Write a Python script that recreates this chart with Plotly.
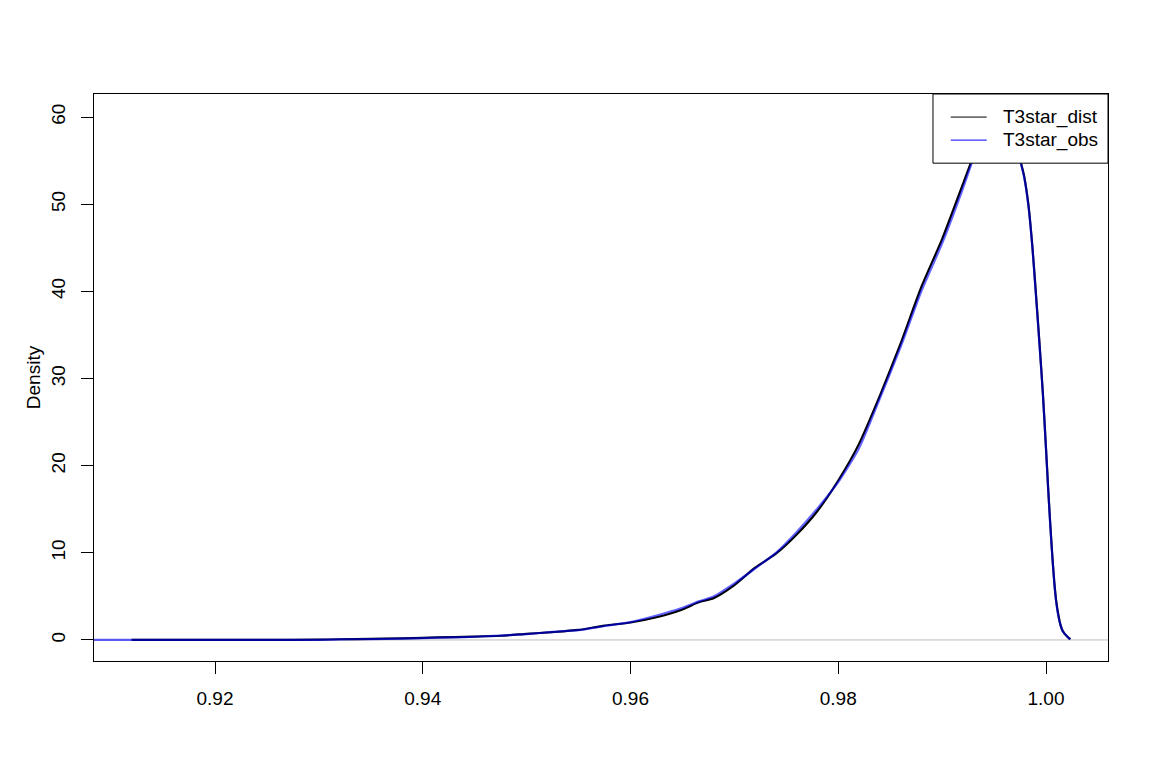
import plotly.graph_objects as go

# Density curve values
x_dist = [0.91197, 0.915, 0.920, 0.925, 0.930, 0.932, 0.935, 0.938, 0.940, 0.943,
          0.945, 0.9475, 0.950, 0.9525, 0.955, 0.9575, 0.960, 0.9625, 0.965, 0.9665,
          0.968, 0.970, 0.972, 0.974, 0.976, 0.978, 0.980, 0.982, 0.984, 0.986,
          0.988, 0.990, 0.992, 0.993, 0.994, 0.995, 0.9957, 0.9965, 0.997, 0.9976,
          0.9979, 0.9983, 0.9987, 0.9991, 0.9994, 0.9997, 1.0000, 1.0002, 1.0004, 1.0006,
          1.0008, 1.0010, 1.0012, 1.0014, 1.0016, 1.0018, 1.0020, 1.0022, 1.00235]
y_dist = [0.0, 0.0, 0.0, 0.01, 0.03, 0.08, 0.12, 0.18, 0.25, 0.32,
          0.38, 0.48, 0.70, 0.90, 1.15, 1.65, 2.0, 2.6, 3.5, 4.3,
          4.8, 6.3, 8.3, 9.9, 12.1, 14.8, 18.3, 22.5, 28.0, 34.0,
          40.5, 46.0, 52.3, 55.5, 58.3, 59.9, 60.24, 59.5, 57.8, 54.7,
          53.2, 50.0, 45.0, 38.6, 33.6, 28.3, 22.0, 17.6, 13.5, 9.8,
          6.6, 4.3, 2.8, 1.7, 1.05, 0.7, 0.45, 0.22, 0.1]
x_obs = [0.9050, 0.91197, 0.915, 0.920, 0.925, 0.930, 0.932, 0.935, 0.938, 0.940, 0.943,
         0.945, 0.9475, 0.950, 0.9525, 0.955, 0.9575, 0.960, 0.9625, 0.965, 0.9665,
         0.968, 0.970, 0.972, 0.974, 0.976, 0.978, 0.980, 0.982, 0.984, 0.986,
         0.988, 0.990, 0.992, 0.993, 0.994, 0.995, 0.9957, 0.9965, 0.997, 0.9976,
         0.9979, 0.9983, 0.9987, 0.9991, 0.9994, 0.9997, 1.0000, 1.0002, 1.0004, 1.0006,
         1.0008, 1.0010, 1.0012, 1.0014, 1.0016, 1.0018, 1.0020, 1.0022, 1.00235]
y_obs = [0.0, 0.0, 0.0, 0.0, 0.01, 0.02, 0.06, 0.10, 0.15, 0.22, 0.30,
         0.37, 0.50, 0.68, 0.92, 1.12, 1.60, 2.05, 2.8, 3.7, 4.4,
         5.0, 6.5, 8.2, 10.0, 12.4, 15.1, 18.1, 22.0, 27.7, 33.6,
         40.0, 45.5, 51.8, 55.2, 58.0, 59.7, 60.1, 59.4, 57.7, 54.6,
         53.1, 49.9, 44.9, 38.4, 33.4, 28.2, 21.9, 17.5, 13.4, 9.7,
         6.5, 4.2, 2.7, 1.7, 1.0, 0.7, 0.45, 0.22, 0.1]

x_ticks = [0.92, 0.94, 0.96, 0.98, 1.00]
x_tick_text = ["0.92", "0.94", "0.96", "0.98", "1.00"]
y_ticks = [0, 10, 20, 30, 40, 50, 60]
series_names = ["T3star_dist", "T3star_obs"]

FONT = "Liberation Sans, Arial, sans-serif"

fig = go.Figure()
fig.add_trace(go.Scatter(x=x_dist, y=y_dist, mode="lines", name=series_names[0],
                         line=dict(color="black", width=2.2, shape="spline", smoothing=0.6),
                         showlegend=False))
fig.add_trace(go.Scatter(x=x_obs, y=y_obs, mode="lines", name=series_names[1],
                         line=dict(color="rgba(0,0,255,0.6)", width=2.2, shape="spline", smoothing=0.6),
                         showlegend=False))

# zero line (gray, like plot.density)
fig.add_shape(type="line", xref="paper", x0=0, x1=1, yref="y", y0=0, y1=0,
              line=dict(color="#BEBEBE", width=1), layer="below")

# legend box drawn manually (R style)
lx0, lx1, ly0, ly1 = 0.8274, 1.0, 0.878, 1.0
fig.add_shape(type="rect", xref="paper", yref="paper", x0=lx0, x1=lx1, y0=ly0, y1=ly1,
              line=dict(color="black", width=1), fillcolor="white", layer="above")
leg_colors = ["black", "blue"]
leg_y = [0.9593, 0.9187]
for name, col, yy in zip(series_names, leg_colors, leg_y):
    fig.add_shape(type="line", xref="paper", yref="paper", x0=0.8449, x1=0.8804,
                  y0=yy, y1=yy, line=dict(color=col, width=1), layer="above")
    fig.add_annotation(xref="paper", yref="paper", x=0.8949, y=yy, text=name,
                       showarrow=False, xanchor="left", yanchor="middle",
                       font=dict(family=FONT, size=19, color="black"))

fig.update_layout(
    width=1157, height=778,
    margin=dict(l=86.3, r=56.7, t=86.3, b=125),
    paper_bgcolor="white", plot_bgcolor="white",
    font=dict(family=FONT, size=19, color="black"),
    showlegend=False,
    xaxis=dict(range=[0.908351, 1.005969], tickvals=x_ticks, ticktext=x_tick_text,
               showgrid=False, zeroline=False, showline=True, mirror=True,
               linecolor="black", linewidth=1, ticks="outside", ticklen=12,
               tickcolor="black", tickwidth=1, ticklabelstandoff=8,
               tickfont=dict(family=FONT, size=19)),
    yaxis=dict(range=[-2.415, 62.65], tickvals=y_ticks, tickangle=-90,
               showgrid=False, zeroline=False, showline=True, mirror=True,
               linecolor="black", linewidth=1, ticks="outside", ticklen=12,
               tickcolor="black", tickwidth=1, ticklabelstandoff=8,
               tickfont=dict(family=FONT, size=19),
               title=dict(text="Density", font=dict(family=FONT, size=19), standoff=2)),
)

fig.write_html("out.html")
